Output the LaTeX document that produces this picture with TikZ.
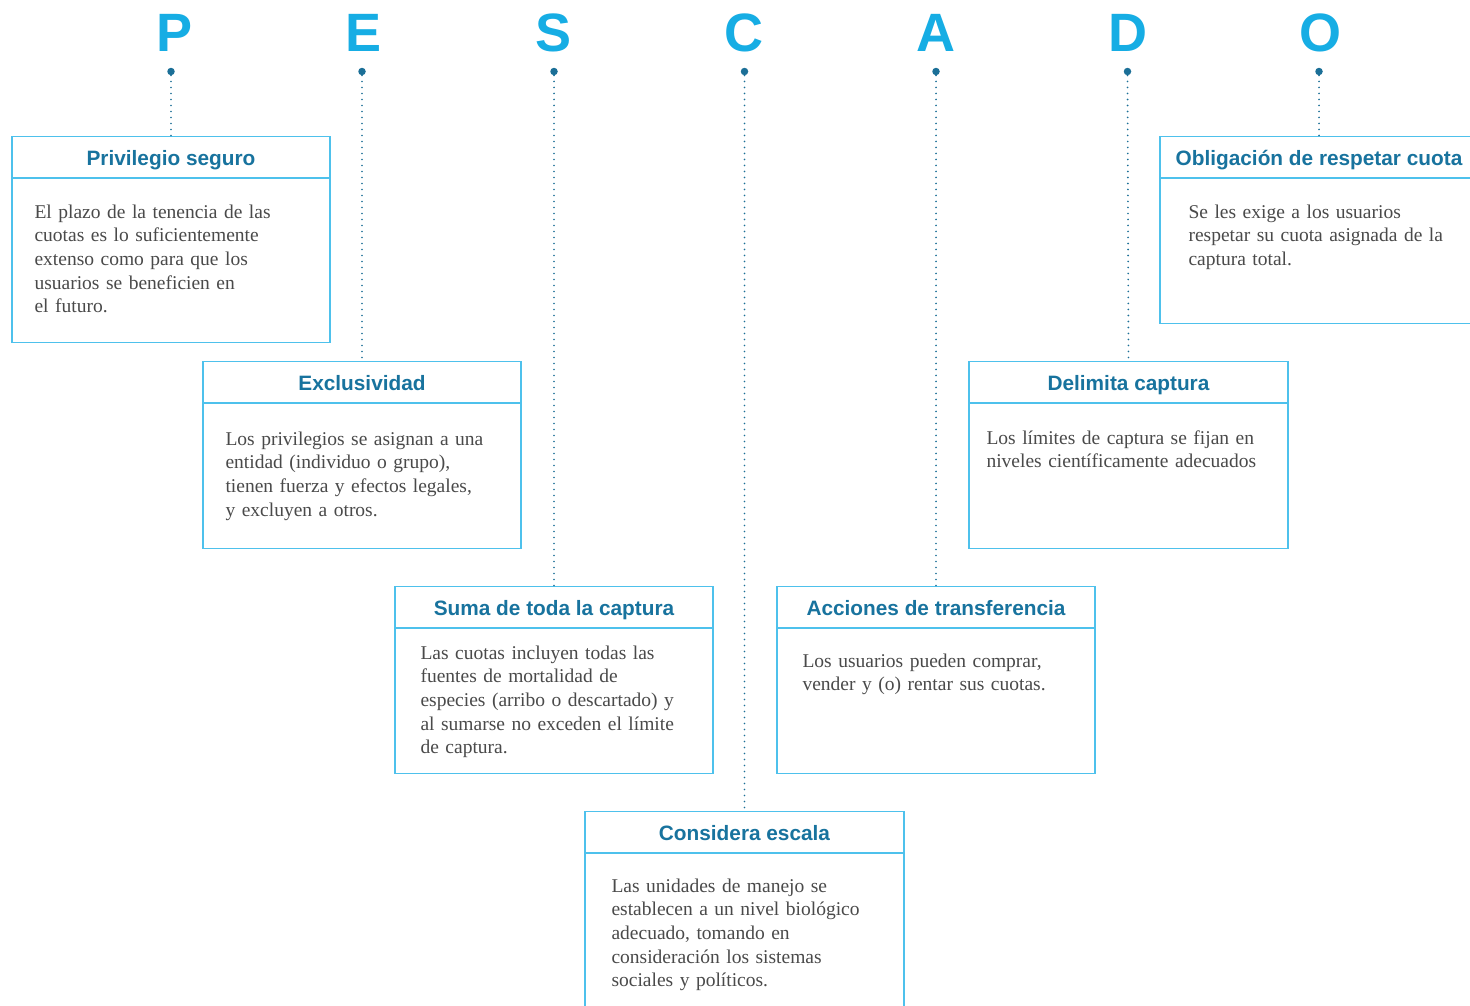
\documentclass[tikz,border=0pt]{standalone}
\usepackage{fontspec}
\setmainfont{Liberation Serif}
\setsansfont{Liberation Sans}
\definecolor{lettercol}{HTML}{16ADE4}
\definecolor{dotcol}{HTML}{1B6F97}
\definecolor{titlecol}{HTML}{18739E}
\definecolor{bordercol}{HTML}{4EC1EC}
\definecolor{bodycol}{HTML}{4A4A4A}
\tikzset{
  bigletter/.style={font=\sffamily\bfseries\fontsize{54}{60}\selectfont, text=lettercol, anchor=base, inner sep=0pt},
  pin/.style={circle, fill=dotcol, inner sep=0pt, minimum size=7.5pt},
  conn/.style={draw=dotcol, line width=1.9pt, line cap=round, dash pattern=on 0pt off 6pt},
  card/.style={draw=bordercol, line width=1.3pt, minimum width=318pt, inner sep=0pt, anchor=north},
  divider/.style={draw=bordercol, line width=1.3pt},
  cardtitle/.style={font=\sffamily\bfseries\fontsize{20.8}{24}\selectfont, text=titlecol, anchor=base, inner sep=0pt},
  cardbody/.style={font=\fontsize{19.5}{23.7}\selectfont, text=bodycol, align=left, text width=300pt, anchor=base west, inner sep=0pt}
}
\begin{document}
\begin{tikzpicture}[x=1pt,y=-1pt]
\clip (0,0) rectangle (1470,1005);
\fill[white] (0,0) rectangle (1470,1005);

% letters
\node[bigletter] (lP) at (175,51) {P};
\node[bigletter] (lE) at (364,51) {E};
\node[bigletter] (lS) at (554,51) {S};
\node[bigletter] (lC) at (744,51) {C};
\node[bigletter] (lA) at (936,51) {A};
\node[bigletter] (lD) at (1128,51) {D};
\node[bigletter] (lO) at (1320,51) {O};

% pins
\node[pin] (pP) at (171,71.5) {};
\node[pin] (pE) at (362,71.5) {};
\node[pin] (pS) at (554,71.5) {};
\node[pin] (pC) at (744.5,71.5) {};
\node[pin] (pA) at (936,71.5) {};
\node[pin] (pD) at (1127.5,71.5) {};
\node[pin] (pO) at (1319,71.5) {};

% cards
\node[card, minimum height=206pt] (b1) at (171,136) {};
\node[card, minimum height=187pt] (b2) at (362,361) {};
\node[card, minimum height=187pt] (b3) at (554,586) {};
\node[card, minimum height=230pt, minimum width=319pt] (b4) at (744.5,811) {};
\node[card, minimum height=187pt] (b5) at (936,586) {};
\node[card, minimum height=187pt, minimum width=319pt] (b6) at (1128.5,361) {};
\node[card, minimum height=187pt] (b7) at (1319,136) {};

% connectors
\draw[conn] (pP) -- (b1.north);
\draw[conn] (pE) -- (b2.north);
\draw[conn] (pS) -- (b3.north);
\draw[conn] (pC) -- (b4.north);
\draw[conn] (pA) -- (b5.north);
\draw[conn] (pD) -- (b6.north);
\draw[conn] (pO) -- (b7.north);

% dividers
\foreach \b in {b1,b2,b3,b4,b5,b6,b7}{
  \draw[divider] ([yshift=-42pt]\b.north west) -- ([yshift=-42pt]\b.north east);
}

% titles
\node[cardtitle] (t1) at ([yshift=-29.5pt]b1.north) {Privilegio seguro};
\node[cardtitle] (t2) at ([yshift=-29.5pt]b2.north) {Exclusividad};
\node[cardtitle] (t3) at ([yshift=-29.5pt]b3.north) {Suma de toda la captura};
\node[cardtitle] (t4) at ([yshift=-29.5pt]b4.north) {Considera escala};
\node[cardtitle] (t5) at ([yshift=-29.5pt]b5.north) {Acciones de transferencia};
\node[cardtitle] (t6) at ([yshift=-29.5pt]b6.north) {Delimita captura};
\node[cardtitle] (t7) at ([yshift=-29.5pt]b7.north) {Obligación de respetar cuota};

% bodies
\node[cardbody] (d1) at ([xshift=23pt,yshift=-82pt]b1.north west)
  {El plazo de la tenencia de las\\cuotas es lo suficientemente\\extenso como para que los\\usuarios se beneficien en\\el futuro.};
\node[cardbody] (d2) at ([xshift=23pt,yshift=-84pt]b2.north west)
  {Los privilegios se asignan a una\\entidad (individuo o grupo),\\tienen fuerza y efectos legales,\\y excluyen a otros.};
\node[cardbody] (d3) at ([xshift=26pt,yshift=-73pt]b3.north west)
  {Las cuotas incluyen todas las\\fuentes de mortalidad de\\especies (arribo o descartado) y\\al sumarse no exceden el límite\\de captura.};
\node[cardbody] (d4) at ([xshift=27pt,yshift=-81pt]b4.north west)
  {Las unidades de manejo se\\establecen a un nivel biológico\\adecuado, tomando en\\consideración los sistemas\\sociales y políticos.};
\node[cardbody] (d5) at ([xshift=26pt,yshift=-81pt]b5.north west)
  {Los usuarios pueden comprar,\\vender y (o) rentar sus cuotas.};
\node[cardbody] (d6) at ([xshift=18pt,yshift=-83pt]b6.north west)
  {Los límites de captura se fijan en\\niveles científicamente adecuados};
\node[cardbody] (d7) at ([xshift=29pt,yshift=-82pt]b7.north west)
  {Se les exige a los usuarios\\respetar su cuota asignada de la\\captura total.};
\end{tikzpicture}
\end{document}
